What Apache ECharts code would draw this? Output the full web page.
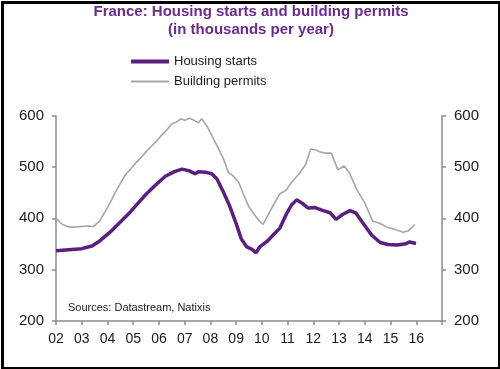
<!DOCTYPE html>
<html>
<head>
<meta charset="utf-8">
<script src="https://cdn.jsdelivr.net/npm/echarts@6/dist/echarts.min.js"></script>
<style>
html,body{margin:0;padding:0;background:#fff;}
#c{width:500px;height:369px;}
</style>
</head>
<body>
<div id="c"></div>
<script>
// Housing starts (thousands per year), decimal-year sample times
const startsYears = [2002.0,2002.5,2003.0,2003.4,2003.7,2004.1,2004.5,2004.9,2005.25,2005.5,2005.85,2006.25,2006.6,2006.9,2007.15,2007.4,2007.55,2007.8,2008.05,2008.25,2008.5,2008.75,2009.0,2009.2,2009.4,2009.6,2009.77,2009.93,2010.2,2010.45,2010.7,2010.95,2011.15,2011.35,2011.55,2011.8,2012.07,2012.33,2012.65,2012.88,2013.15,2013.43,2013.66,2013.94,2014.27,2014.6,2014.9,2015.25,2015.55,2015.75,2015.99];
const startsValues = [337,339,341,346,356,373,393,413,433,447,464,482,491,496,493,487,491,490,487,477,452,424,390,360,345,340,333,345,355,368,381,408,426,436,430,420,421,416,411,398,408,415,410,390,367,353,349,348,350,354,351];

// Building permits (thousands per year)
const permitsYears = [2002.0,2002.25,2002.5,2002.75,2003.0,2003.25,2003.45,2003.7,2003.9,2004.1,2004.3,2004.5,2004.7,2004.9,2005.1,2005.3,2005.5,2005.7,2005.9,2006.1,2006.3,2006.5,2006.7,2006.85,2007.0,2007.2,2007.4,2007.53,2007.66,2007.86,2008.05,2008.25,2008.5,2008.7,2008.9,2009.1,2009.3,2009.5,2009.7,2009.9,2010.05,2010.2,2010.45,2010.7,2010.95,2011.15,2011.45,2011.7,2011.9,2012.1,2012.3,2012.5,2012.7,2012.95,2013.2,2013.4,2013.7,2014.0,2014.3,2014.6,2014.9,2015.2,2015.5,2015.7,2015.95];
const permitsValues = [400,388,383,383,384,385,384,395,412,430,450,468,485,496,508,518,530,540,550,562,572,584,588,594,591,595,590,586,594,580,562,542,517,490,482,470,445,422,408,395,388,403,426,448,455,470,487,505,535,533,529,527,527,495,502,489,455,430,395,390,382,378,373,376,388];

const yTicks = [200,300,400,500,600];
const titleText = 'France: Housing starts and building permits\n(in thousands per year)';
const sourceText = 'Sources: Datastream, Natixis';

const purple = '#5b1f7d';
const grey = '#a6a6a6';
const axisGrey = '#8c8c8c';

const chart = echarts.init(document.getElementById('c'), null, {renderer:'canvas'});
const yAxisCommon = {
  type:'value', min:yTicks[0], max:yTicks[yTicks.length-1], interval:100,
  splitLine:{show:false},
  axisLine:{show:true, lineStyle:{color:axisGrey, width:1.5}},
  axisTick:{show:true, length:4, lineStyle:{color:axisGrey, width:1.5}},
  axisLabel:{color:'#1a1a1a', fontSize:15, fontFamily:'Liberation Sans, Arial', margin:12}
};
chart.setOption({
  animation:false,
  backgroundColor:'#fff',
  title:{
    text:titleText, left:246, top:-2, textAlign:'center',
    textStyle:{color:'#6a2c8c', fontSize:15, fontWeight:'bold', fontFamily:'Liberation Sans, Arial', lineHeight:18}
  },
  legend:[
    {data:['Housing starts'], left:126, top:50, icon:'rect', itemWidth:38, itemHeight:4,
     textStyle:{color:'#1a1a1a', fontSize:13, fontFamily:'Liberation Sans, Arial'}},
    {data:['Building permits'], left:126, top:70, icon:'rect', itemWidth:38, itemHeight:2,
     textStyle:{color:'#1a1a1a', fontSize:13, fontFamily:'Liberation Sans, Arial'}}
  ],
  grid:{left:56, right:58, top:115.7, bottom:48, containLabel:false},
  xAxis:{
    type:'value', min:2002, max:2017, interval:1,
    splitLine:{show:false},
    axisLine:{show:true, onZero:false, lineStyle:{color:axisGrey, width:1.5}},
    axisTick:{show:true, length:4, lineStyle:{color:axisGrey, width:1.5}},
    axisLabel:{color:'#1a1a1a', fontSize:14, fontFamily:'Liberation Sans, Arial', margin:11,
      formatter:v => v >= 2017 ? '' : String(v % 100).padStart(2,'0')}
  },
  yAxis:[
    Object.assign({position:'left'}, yAxisCommon),
    Object.assign({position:'right'}, yAxisCommon)
  ],
  series:[
    {name:'Building permits', type:'line', yAxisIndex:0, showSymbol:false, symbol:'none',
     data:permitsYears.map((x,i)=>[x,permitsValues[i]]),
     lineStyle:{color:grey, width:1.6}, itemStyle:{color:grey}, z:2},
    {name:'Housing starts', type:'line', yAxisIndex:0, showSymbol:false, symbol:'none',
     data:startsYears.map((x,i)=>[x,startsValues[i]]),
     lineStyle:{color:purple, width:3.5}, itemStyle:{color:purple}, z:3}
  ],
  graphic:[
    {type:'text', left:68, top:302, style:{text:sourceText, fill:'#1a1a1a', fontSize:11, fontFamily:'Liberation Sans, Arial'}},
    {type:'rect', left:0, top:0, shape:{x:1.5, y:1.5, width:497, height:366}, style:{fill:null, stroke:'#000', lineWidth:3}, silent:true}
  ]
});
</script>
</body>
</html>
